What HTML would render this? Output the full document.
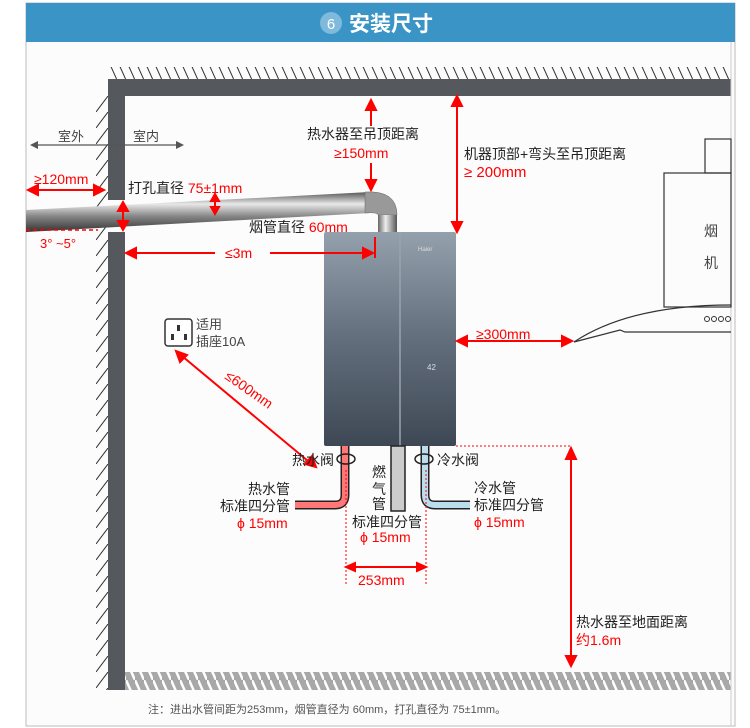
<!DOCTYPE html>
<html><head><meta charset="utf-8"><style>
body{margin:0;background:#fff;}
svg{display:block;font-family:"Liberation Sans","Noto Sans CJK SC",sans-serif;}
</style></head><body>
<svg width="750" height="728" viewBox="0 0 750 728" xmlns="http://www.w3.org/2000/svg">
<defs>
<pattern id="h" width="9" height="20" patternUnits="userSpaceOnUse"><line x1="0" y1="0" x2="9" y2="20" stroke="#333" stroke-width="1"/></pattern>
<pattern id="wh" width="12" height="16" patternUnits="userSpaceOnUse"><line x1="0" y1="16" x2="12" y2="0" stroke="#333" stroke-width="1"/></pattern>
<pattern id="fh" width="9" height="20" patternUnits="userSpaceOnUse"><rect width="9" height="20" fill="#a8a8a8"/><line x1="0" y1="0" x2="9" y2="20" stroke="#fff" stroke-width="2.5"/></pattern>
<linearGradient id="pipe" x1="0" y1="0" x2="0" y2="1"><stop offset="0" stop-color="#555"/><stop offset="0.3" stop-color="#e8e8e8"/><stop offset="0.6" stop-color="#888"/><stop offset="1" stop-color="#333"/></linearGradient>
<linearGradient id="vp" x1="0" y1="0" x2="1" y2="0"><stop offset="0" stop-color="#666"/><stop offset="0.4" stop-color="#eee"/><stop offset="1" stop-color="#555"/></linearGradient>
<linearGradient id="heat" x1="0" y1="0" x2="0" y2="1"><stop offset="0" stop-color="#95a0ad"/><stop offset="0.5" stop-color="#636e7c"/><stop offset="1" stop-color="#3e4855"/></linearGradient>
</defs>
<rect x="26" y="3" width="709" height="723" fill="#fcfcfc" stroke="#bbb"/>
<rect x="26" y="3" width="709" height="39" fill="#3a95c6"/>
<circle cx="331" cy="23" r="11" fill="#7fb9dc"/>
<text x="331" y="29" font-size="15" fill="#fff" text-anchor="middle">6</text>
<text x="349" y="31" font-size="21" fill="#fff" font-weight="bold">安装尺寸</text>
<rect x="108" y="67" width="623" height="12" fill="url(#h)"/>
<rect x="108" y="79" width="623" height="17" fill="#55595d"/>
<rect x="96" y="96" width="12" height="594" fill="url(#wh)"/>
<rect x="108" y="79" width="17" height="121" fill="#55595d"/>
<rect x="108" y="232" width="17" height="458" fill="#55595d"/>
<rect x="125" y="672" width="606" height="18" fill="url(#fh)"/>
<line x1="731" y1="42" x2="731" y2="726" stroke="#ccc"/>
<line x1="32" y1="145" x2="182" y2="145" stroke="#555" stroke-width="1.2"/>
<polygon points="30,145 38,141 38,149" fill="#555"/><polygon points="184,145 176,141 176,149" fill="#555"/>
<text x="58" y="141" font-size="13" fill="#444">室外</text>
<text x="133" y="141" font-size="13" fill="#444">室内</text>
<polygon points="26,210 370,192 370,213 26,232" fill="url(#pipe)"/>
<path d="M365,192 Q397,190 397,215 L378,215 Q378,212 365,213Z" fill="#999" stroke="#666" stroke-width="0.5"/>
<rect x="378" y="215" width="19" height="17" fill="url(#vp)"/>
<g fill="none" stroke="#333" stroke-width="1.2">
<rect x="705" y="139" width="26" height="34"/>
<rect x="664" y="173" width="67" height="134"/>
<path d="M574,342 Q630,305 731,305"/>
<path d="M574,342 L620,330 L625,332 L731,332"/>
</g>
<text x="711" y="236" font-size="14" fill="#444" text-anchor="middle">烟</text>
<text x="711" y="268" font-size="14" fill="#444" text-anchor="middle">机</text>
<g fill="none" stroke="#333"><circle cx="707" cy="319" r="2.5"/><circle cx="714" cy="319" r="2.5"/><circle cx="721" cy="319" r="2.5"/><circle cx="728" cy="319" r="2.5"/></g>
<rect x="324" y="232" width="132" height="214" fill="url(#heat)" rx="2"/>
<line x1="400" y1="232" x2="400" y2="446" stroke="#9aa3ad" stroke-width="1.5"/>
<text x="418" y="251" font-size="6" fill="#ddd">Haier</text>
<text x="427" y="370" font-size="8" fill="#ddd">42</text>
<rect x="165" y="319" width="27" height="27" rx="3" fill="#fff" stroke="#333" stroke-width="1.5"/>
<rect x="177" y="325" width="3" height="6" fill="#333"/><rect x="171" y="334" width="3" height="6" fill="#333"/><rect x="184" y="334" width="3" height="6" fill="#333"/>
<text x="196" y="329" font-size="13" fill="#444">适用</text>
<text x="196" y="346" font-size="13" fill="#444">插座10A</text>
<path d="M345,446 V495 Q345,505 335,505 H295" fill="none" stroke="#222" stroke-width="9"/>
<path d="M345,446 V495 Q345,505 335,505 H295" fill="none" stroke="#f77" stroke-width="6"/>
<path d="M425,446 V495 Q425,505 435,505 H470" fill="none" stroke="#222" stroke-width="9"/>
<path d="M425,446 V495 Q425,505 435,505 H470" fill="none" stroke="#bde" stroke-width="6"/>
<rect x="391" y="446" width="14" height="65" fill="#ccc" stroke="#222" stroke-width="1.5"/>
<ellipse cx="346" cy="459" rx="9" ry="5" fill="none" stroke="#222" stroke-width="1.5"/>
<ellipse cx="424" cy="459" rx="9" ry="5" fill="none" stroke="#222" stroke-width="1.5"/>
<g stroke="red" stroke-width="2" fill="red">
<line x1="371" y1="108" x2="371" y2="126"/><polygon points="371,100 366,110 376,110"/>
<line x1="371" y1="163" x2="371" y2="182"/><polygon points="371,190 366,180 376,180"/>
<line x1="457" y1="104" x2="457" y2="226"/><polygon points="457,96 452,106 462,106"/><polygon points="457,232 452,222 462,222"/>
<line x1="34" y1="190" x2="98" y2="190"/><polygon points="28,190 38,185 38,195"/><polygon points="104,190 94,185 94,195"/>
<line x1="123" y1="208" x2="123" y2="224"/><polygon points="123,202 118,211 128,211"/><polygon points="123,230 118,221 128,221"/>
<line x1="215" y1="198" x2="215" y2="210"/><polygon points="215,194 211,201 219,201"/><polygon points="215,214 211,207 219,207"/>
<line x1="132" y1="253" x2="215" y2="253"/><line x1="270" y1="253" x2="366" y2="253"/><polygon points="126,253 136,248 136,258"/><polygon points="373,253 363,248 363,258"/>
<line x1="375" y1="237" x2="375" y2="258"/>
<line x1="308" y1="461" x2="182" y2="356"/><polygon points="176,351 180,362 187,355"/><polygon points="316,467 305,464 312,456"/>
<line x1="464" y1="341" x2="564" y2="341"/><polygon points="457,341 467,336 467,346"/><polygon points="572,341 562,336 562,346"/>
<line x1="352" y1="567" x2="420" y2="567"/><polygon points="346,567 355,563 355,571"/><polygon points="426,567 417,563 417,571"/>
<line x1="571" y1="458" x2="571" y2="660"/><polygon points="571,448 566,459 576,459"/><polygon points="571,666 566,656 576,656"/>
</g>
<g stroke="red" stroke-width="1" stroke-dasharray="2,2" fill="none">
<line x1="346" y1="470" x2="346" y2="585"/><line x1="426" y1="470" x2="426" y2="585"/>
<line x1="456" y1="446" x2="571" y2="446"/>
</g>
<line x1="26" y1="230" x2="98" y2="230" stroke="red" stroke-width="1.5" stroke-dasharray="4,3"/>
<g font-size="14" fill="#222">
<text x="307" y="139">热水器至吊顶距离</text>
<text x="464" y="159">机器顶部+弯头至吊顶距离</text>
<text x="128" y="193">打孔直径 <tspan fill="red">75±1mm</tspan></text>
<text x="249" y="232">烟管直径 <tspan fill="red">60mm</tspan></text>
<text x="292" y="465">热水阀</text>
<text x="437" y="465">冷水阀</text>
<text x="248" y="494">热水管</text>
<text x="220" y="511">标准四分管</text>
<text x="474" y="493">冷水管</text>
<text x="474" y="510">标准四分管</text>
<text x="352" y="527">标准四分管</text>
<text x="372" y="477">燃</text><text x="372" y="494">气</text><text x="372" y="509">管</text>
<text x="576" y="627">热水器至地面距离</text>
</g>
<g font-size="14" fill="red">
<text x="334" y="158">≥150mm</text>
<text x="464" y="177" font-size="15">≥ 200mm</text>
<text x="34" y="184">≥120mm</text>
<text x="40" y="248" font-size="13">3°  ~5°</text>
<text x="225" y="258">≤3m</text>
<text x="476" y="339">≥300mm</text>
<text x="237" y="528">ϕ 15mm</text>
<text x="474" y="527">ϕ 15mm</text>
<text x="360" y="542">ϕ 15mm</text>
<text x="358" y="585">253mm</text>
<text x="576" y="645">约1.6m</text>
<text x="224" y="378" transform="rotate(35 224 378)">≤600mm</text>
</g>
<text x="148" y="713" font-size="11" fill="#555">注：进出水管间距为253mm，烟管直径为 60mm，打孔直径为 75±1mm。</text>
</svg>
</body></html>
